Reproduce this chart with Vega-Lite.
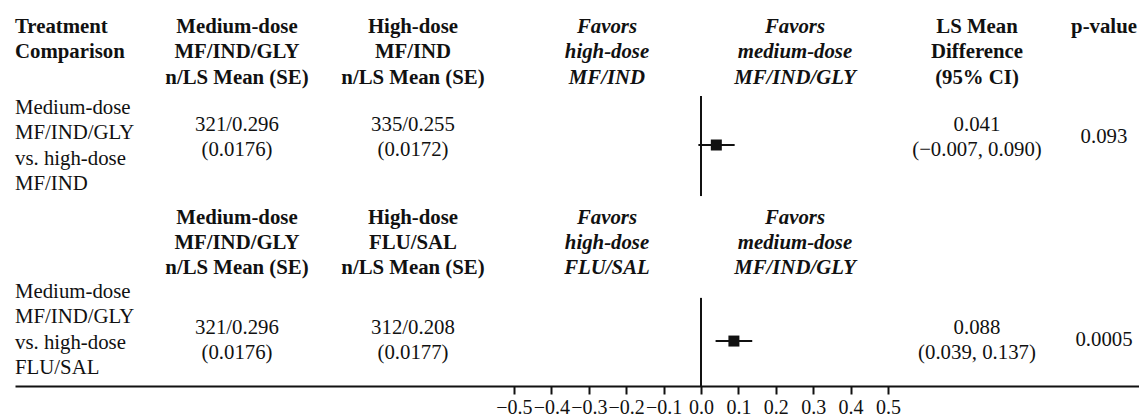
{
  "$schema": "https://vega.github.io/schema/vega-lite/v6.json",
  "width": 1124,
  "height": 386,
  "autosize": {"type": "none"},
  "padding": {"left": 15, "top": 0, "right": 0, "bottom": 33},
  "background": "white",
  "config": {
    "view": {"stroke": null}
  },
  "datasets": {
    "cells": [
      {"kind": "head", "col": 1, "line": 1.063, "label": "Treatment\nComparison"},
      {"kind": "head", "col": 2, "line": 1.063, "label": "Medium-dose\nMF/IND/GLY\nn/LS Mean (SE)"},
      {"kind": "head", "col": 3, "line": 1.063, "label": "High-dose\nMF/IND\nn/LS Mean (SE)"},
      {"kind": "fav", "col": 4, "line": 1.063, "label": "Favors\nhigh-dose\nMF/IND"},
      {"kind": "fav", "col": 5, "line": 1.063, "label": "Favors\nmedium-dose\nMF/IND/GLY"},
      {"kind": "head", "col": 6, "line": 1.063, "label": "LS Mean\nDifference\n(95% CI)"},
      {"kind": "head", "col": 7, "line": 1.063, "label": "p-value"},
      {"kind": "body", "col": 1, "line": 4.253, "label": "Medium-dose\nMF/IND/GLY\nvs. high-dose\nMF/IND"},
      {"kind": "body", "col": 2, "line": 4.922, "label": "321/0.296\n(0.0176)"},
      {"kind": "body", "col": 3, "line": 4.922, "label": "335/0.255\n(0.0172)"},
      {"kind": "body", "col": 6, "line": 4.922, "label": "0.041\n(−0.007, 0.090)"},
      {"kind": "body", "col": 7, "line": 5.395, "label": "0.093"},
      {"kind": "head", "col": 2, "line": 8.565, "label": "Medium-dose\nMF/IND/GLY\nn/LS Mean (SE)"},
      {"kind": "head", "col": 3, "line": 8.565, "label": "High-dose\nFLU/SAL\nn/LS Mean (SE)"},
      {"kind": "fav", "col": 4, "line": 8.565, "label": "Favors\nhigh-dose\nFLU/SAL"},
      {"kind": "fav", "col": 5, "line": 8.565, "label": "Favors\nmedium-dose\nMF/IND/GLY"},
      {"kind": "body", "col": 1, "line": 11.498, "label": "Medium-dose\nMF/IND/GLY\nvs. high-dose\nFLU/SAL"},
      {"kind": "body", "col": 2, "line": 12.916, "label": "321/0.296\n(0.0176)"},
      {"kind": "body", "col": 3, "line": 12.916, "label": "312/0.208\n(0.0177)"},
      {"kind": "body", "col": 6, "line": 12.916, "label": "0.088\n(0.039, 0.137)"},
      {"kind": "body", "col": 7, "line": 13.39, "label": "0.0005"}
    ],
    "effects": [
      {"comparison": "vs. high-dose MF/IND", "est": 0.041, "lo": -0.007, "hi": 0.090, "line": 5.71},
      {"comparison": "vs. high-dose FLU/SAL", "est": 0.088, "lo": 0.039, "hi": 0.137, "line": 13.43}
    ],
    "zero": [
      {"comparison": "vs. high-dose MF/IND", "top": 3.78, "bottom": 7.72},
      {"comparison": "vs. high-dose FLU/SAL", "top": 11.73, "bottom": 15.2}
    ]
  },
  "layer": [
    {
      "data": {"name": "cells"},
      "encoding": {
        "x": {"field": "col", "type": "quantitative", "scale": {"domain": [1, 2, 3, 4, 5, 6, 7], "range": [0, 222, 398, 592, 780, 962, 1089], "zero": false, "nice": false}, "axis": null},
        "y": {"field": "line", "type": "quantitative", "scale": {"domain": [0, 15.2], "reverse": true, "zero": false, "nice": false}, "axis": null},
        "text": {"field": "label"}
      },
      "layer": [
        {"transform": [{"filter": "datum.kind === 'head' && datum.col === 1"}], "mark": {"type": "text", "font": "Liberation Serif", "fontSize": 20.8, "color": "#111", "lineBreak": "\n", "lineHeight": 25.4, "baseline": "middle", "align": "left", "fontWeight": "bold"}},
        {"transform": [{"filter": "datum.kind === 'head' && datum.col !== 1"}], "mark": {"type": "text", "font": "Liberation Serif", "fontSize": 20.8, "color": "#111", "lineBreak": "\n", "lineHeight": 25.4, "baseline": "middle", "align": "center", "fontWeight": "bold"}},
        {"transform": [{"filter": "datum.kind === 'fav'"}], "mark": {"type": "text", "font": "Liberation Serif", "fontSize": 20.8, "color": "#111", "lineBreak": "\n", "lineHeight": 25.4, "baseline": "middle", "align": "center", "fontWeight": "bold", "fontStyle": "italic"}},
        {"transform": [{"filter": "datum.kind === 'body' && datum.col === 1"}], "mark": {"type": "text", "font": "Liberation Serif", "fontSize": 20.8, "color": "#111", "lineBreak": "\n", "lineHeight": 25.4, "baseline": "middle", "align": "left"}},
        {"transform": [{"filter": "datum.kind === 'body' && datum.col !== 1"}], "mark": {"type": "text", "font": "Liberation Serif", "fontSize": 20.8, "color": "#111", "lineBreak": "\n", "lineHeight": 25.4, "baseline": "middle", "align": "center"}}
      ]
    },
    {
      "layer": [
        {
          "data": {"name": "zero"},
          "mark": {"type": "rule", "color": "#111", "strokeWidth": 2},
          "encoding": {
            "x": {"datum": 0, "type": "quantitative", "scale": {"domain": [-1.834, 1.171], "zero": false, "nice": false},
              "axis": {"values": [-0.5, -0.4, -0.3, -0.2, -0.1, 0, 0.1, 0.2, 0.3, 0.4, 0.5], "format": ".1f", "title": null, "grid": false,
                "domainColor": "#111", "domainWidth": 2, "tickColor": "#111", "tickWidth": 2, "tickSize": 8,
                "labelFont": "Liberation Serif", "labelFontSize": 20, "labelColor": "#111", "labelPadding": 3,
                "labelOverlap": false, "labelBound": false, "labelFlush": false}},
            "y": {"field": "top", "type": "quantitative", "scale": {"domain": [0, 15.2], "reverse": true, "zero": false, "nice": false}, "axis": null},
            "y2": {"field": "bottom"}
          }
        },
        {
          "data": {"name": "effects"},
          "mark": {"type": "rule", "color": "#111", "strokeWidth": 2},
          "encoding": {
            "x": {"field": "lo", "type": "quantitative"},
            "x2": {"field": "hi"},
            "y": {"field": "line", "type": "quantitative"}
          }
        },
        {
          "data": {"name": "effects"},
          "mark": {"type": "square", "color": "#111", "filled": true, "opacity": 1, "size": 121},
          "encoding": {
            "x": {"field": "est", "type": "quantitative"},
            "y": {"field": "line", "type": "quantitative"}
          }
        }
      ]
    }
  ],
  "resolve": {"scale": {"x": "independent"}}
}
